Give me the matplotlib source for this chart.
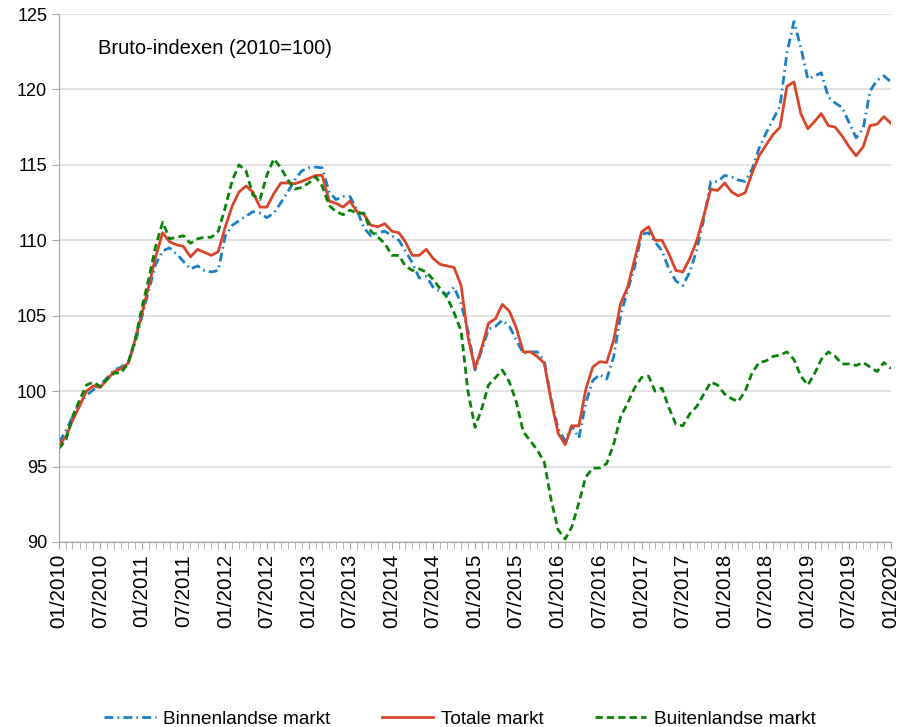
import numpy as np
import pandas as pd
import matplotlib
matplotlib.use("Agg")
import matplotlib.pyplot as plt
import matplotlib.dates as mdates

plt.rcParams['font.family'] = ['Liberation Sans', 'DejaVu Sans']

# ---data--- monthly index, 01/2010 .. 01/2020
months = pd.date_range("2010-01-01", "2020-01-01", freq="MS")

binnen = [96.6, 97.4, 98.3, 99.2, 99.7, 100.1, 100.4, 100.9, 101.4, 101.6,
          101.9, 103.2, 105.0, 106.8, 108.4, 109.3, 109.5, 109.1, 108.6, 108.1,
          108.3, 108.0, 107.9, 108.0, 110.3, 111.0, 111.3, 111.6, 111.9, 111.8,
          111.5, 111.8, 112.5, 113.2, 114.0, 114.6, 114.8, 114.85, 114.8, 113.2,
          112.7, 112.9, 112.9, 112.0, 110.8, 110.3, 110.5, 110.6, 110.3, 110.0,
          109.3, 108.5, 107.5, 107.6, 106.9, 106.6, 106.4, 106.9, 105.8, 104.0,
          101.4, 102.8, 104.1, 104.3, 104.7, 104.3, 103.4, 102.5, 102.6, 102.6,
          102.0, 99.5, 97.5, 96.7, 97.7, 96.9, 99.2, 100.7, 101.1, 100.8,
          102.3, 105.0, 106.7, 108.2, 110.4, 110.5, 109.9, 109.3, 108.1, 107.3,
          107.0, 107.9, 109.4, 111.4, 113.9, 113.9, 114.3, 114.2, 114.0, 113.9,
          114.7, 116.1, 117.1, 118.0, 118.9, 122.4, 124.5, 122.8, 120.7, 120.9,
          121.1, 119.5, 119.1, 118.8, 117.8, 116.8, 117.4, 119.9, 120.6, 120.9,
          120.5]

totaal = [96.4, 97.0, 98.05, 99.0, 100.0, 100.35, 100.25, 100.8, 101.3, 101.5,
          101.85, 103.4, 105.2, 107.1, 108.9, 110.5, 109.9, 109.7, 109.6, 108.9,
          109.4, 109.2, 109.0, 109.25, 110.9, 112.3, 113.2, 113.6, 113.2, 112.2,
          112.2, 113.1, 113.8, 113.8, 113.75, 113.9, 114.1, 114.3, 114.3, 112.6,
          112.45, 112.2, 112.6, 111.9, 111.7, 111.0, 110.9, 111.1, 110.6, 110.5,
          109.9, 109.0, 109.0, 109.4, 108.8, 108.4, 108.3, 108.2, 107.0, 103.6,
          101.5, 102.95, 104.5, 104.8, 105.75, 105.3, 104.2, 102.6, 102.6, 102.3,
          101.85, 99.4, 97.2, 96.45, 97.7, 97.7, 100.1, 101.6, 101.95, 101.9,
          103.4, 105.8, 106.9, 108.7, 110.55, 110.9, 110.0, 110.0, 109.1, 108.0,
          107.9, 108.8, 110.0, 111.6, 113.4, 113.3, 113.8, 113.2, 112.95, 113.15,
          114.45, 115.6, 116.3, 117.0, 117.5, 120.2, 120.5, 118.4, 117.4, 117.9,
          118.4, 117.6, 117.5, 116.9, 116.2, 115.6, 116.2, 117.6, 117.7, 118.2,
          117.75]

buiten = [96.2, 96.8, 98.3, 99.4, 100.4, 100.6, 100.3, 100.8, 101.2, 101.2,
          101.9, 103.4, 105.6, 107.6, 109.6, 111.2, 110.1, 110.2, 110.3, 109.8,
          110.1, 110.2, 110.2, 110.6, 112.2, 114.0, 115.0, 114.6, 113.0, 112.7,
          114.3, 115.4, 114.8, 114.0, 113.4, 113.5, 113.8, 114.2, 113.6, 112.3,
          111.9, 111.7, 112.0, 111.8, 111.8, 110.6, 110.2, 109.8, 109.0, 109.0,
          108.3, 108.0, 108.1, 107.9, 107.4, 106.8, 106.2, 105.2, 104.0, 100.0,
          97.6, 98.9, 100.4, 100.9, 101.4, 100.6, 99.3, 97.3, 96.7, 96.1,
          95.3, 92.8, 90.8, 90.2, 91.0, 92.6, 94.3, 94.9, 94.9, 95.2,
          96.5, 98.3, 99.2, 100.2, 100.9, 101.0, 100.0, 100.2, 98.9, 97.8,
          97.7, 98.5, 99.0, 99.8, 100.6, 100.4, 99.8, 99.5, 99.3, 100.0,
          101.2, 101.9, 102.0, 102.3, 102.4, 102.6, 102.1, 101.0, 100.4, 101.2,
          102.1, 102.6, 102.3, 101.8, 101.8, 101.7, 101.9, 101.6, 101.3, 101.9,
          101.5]

labels = ["Binnenlandse markt", "Totale markt", "Buitenlandse markt"]

# ---plot---
fig = plt.figure(figsize=(9.04, 7.27), dpi=100)
ax = fig.add_axes([0.0653, 0.2545, 0.9203, 0.7262])

ax.plot(months, binnen, color="#1a7fc3", lw=2.0, ls=(0, (3.2, 1.5, 0.6, 1.5)), label=labels[0])
ax.plot(months, totaal, color="#d9452b", lw=2.0, label=labels[1])
ax.plot(months, buiten, color="#0a820a", lw=2.0, ls=(0, (2.6, 1.5)), label=labels[2])

ax.set_ylim(90, 125)
ax.set_yticks(np.arange(90, 126, 5))
ax.set_xlim(months[0], months[-1])
ax.xaxis.set_major_locator(mdates.MonthLocator(bymonth=[1, 7]))
ax.xaxis.set_minor_locator(mdates.MonthLocator())
ax.xaxis.set_major_formatter(mdates.DateFormatter("%m/%Y"))
plt.setp(ax.get_xticklabels(), rotation=90)

ax.grid(axis='y', color='#dddddd', lw=1.2)
ax.set_axisbelow(True)
for s in ['top', 'right']:
    ax.spines[s].set_visible(False)
for s in ['left', 'bottom']:
    ax.spines[s].set_color('#a6a6a6')
ax.tick_params(axis='both', which='both', color='#a6a6a6', length=5, colors='#000000')
ax.tick_params(axis='x', which='both', color='#a6a6a6', labelsize=14.8)
ax.tick_params(axis='y', labelsize=13)

ax.text(0.047, 0.925, "Bruto-indexen (2010=100)", transform=ax.transAxes, fontsize=14.5)

fig.legend(loc='lower center', bbox_to_anchor=(0.509, -0.025), ncol=3, frameon=False,
           fontsize=13.7, handlelength=2.7, handletextpad=0.4, columnspacing=2.7)

fig.savefig("out.png", dpi=100)
